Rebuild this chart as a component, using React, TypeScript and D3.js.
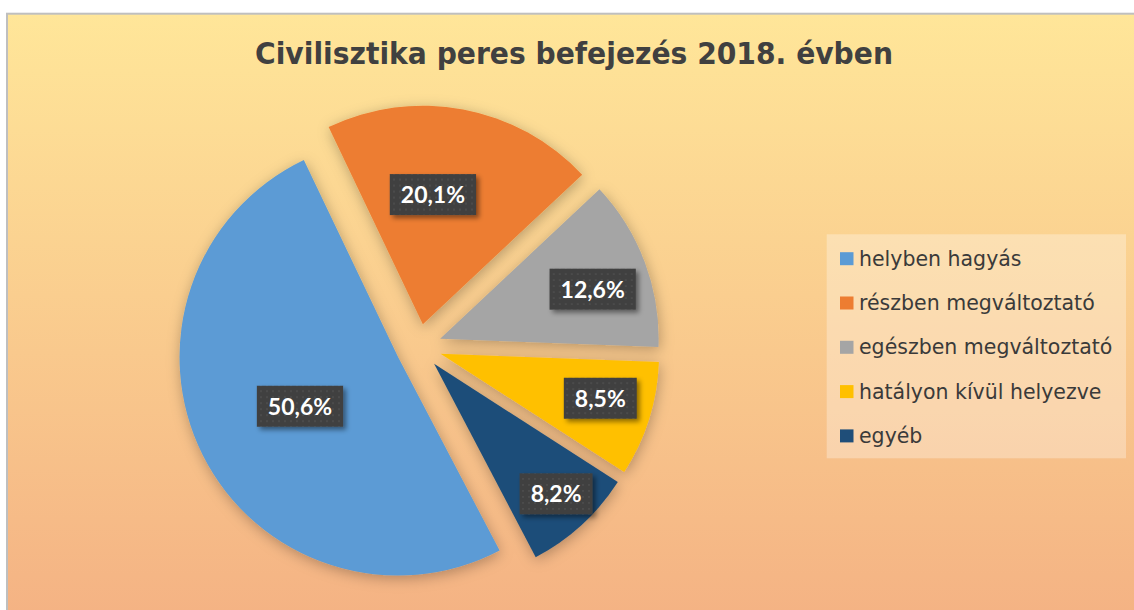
import React, { useEffect, useRef } from 'react';
import * as d3 from 'd3';

const W = 1134;
const H = 610;

const categories = [
  'helyben hagyás',
  'részben megváltoztató',
  'egészben megváltoztató',
  'hatályon kívül helyezve',
  'egyéb',
];
const values = [50.6, 20.1, 12.6, 8.5, 8.2];
const colors = ['#5B9BD5', '#ED7D31', '#A5A5A5', '#FFC000', '#1F4E79'];
const title = 'Civilisztika peres befejezés 2018. évben';

// layout (label placement inside exploded slices)
const labelRadiusFrac = [0.502, 0.595, 0.734, 0.759, 0.816];
const labelAngleShiftDeg = [0, -6.2, 2.5, -1.9, -0.7];

const fmt = (v: number) => d3.format('.1f')(v).replace('.', ',') + '%';

export default function App() {
  const ref = useRef<SVGSVGElement>(null);

  useEffect(() => {
    const svg = d3.select(ref.current);
    svg.selectAll('*').remove();

    const defs = svg.append('defs');
    const grad = defs
      .append('linearGradient')
      .attr('id', 'bg')
      .attr('x1', 0)
      .attr('y1', 0)
      .attr('x2', 0)
      .attr('y2', 1);
    grad.append('stop').attr('offset', '0%').attr('stop-color', '#FFE699');
    grad.append('stop').attr('offset', '100%').attr('stop-color', '#F4B183');

    const ps = defs
      .append('filter')
      .attr('id', 'pieShadow')
      .attr('x', '-20%')
      .attr('y', '-20%')
      .attr('width', '140%')
      .attr('height', '140%');
    ps.append('feDropShadow')
      .attr('dx', 1)
      .attr('dy', 3)
      .attr('stdDeviation', 7)
      .attr('flood-color', '#000')
      .attr('flood-opacity', 0.28);

    const ls = defs
      .append('filter')
      .attr('id', 'labelShadow')
      .attr('x', '-20%')
      .attr('y', '-20%')
      .attr('width', '150%')
      .attr('height', '160%');
    ls.append('feDropShadow')
      .attr('dx', 3)
      .attr('dy', 3)
      .attr('stdDeviation', 2.5)
      .attr('flood-color', '#000')
      .attr('flood-opacity', 0.45);

    const pat = defs
      .append('pattern')
      .attr('id', 'dots')
      .attr('patternUnits', 'userSpaceOnUse')
      .attr('width', 6)
      .attr('height', 6);
    pat.append('rect').attr('width', 6).attr('height', 6).attr('fill', '#3F3F3F');
    pat
      .append('rect')
      .attr('x', 2)
      .attr('y', 2)
      .attr('width', 2)
      .attr('height', 2)
      .attr('fill', '#4C4C4C');

    // chart area
    svg
      .append('rect')
      .attr('x', 7)
      .attr('y', 13.7)
      .attr('width', W + 10)
      .attr('height', H + 10)
      .attr('fill', 'url(#bg)')
      .attr('stroke', '#BFBFBF')
      .attr('stroke-width', 2);

    // title
    svg
      .append('text')
      .attr('x', 574)
      .attr('y', 64)
      .attr('text-anchor', 'middle')
      .attr('font-family', '"DejaVu Sans", sans-serif')
      .attr('font-weight', 'bold')
      .attr('font-size', 31)
      .attr('fill', '#404040')
      .attr('textLength', 638)
      .attr('lengthAdjust', 'spacingAndGlyphs')
      .text(title);

    // pie
    const cx = 418.6;
    const cy = 346.8;
    const r = 218.5;
    const explode = 23;
    const start = (152.3 * Math.PI) / 180;
    const pie = d3
      .pie<number>()
      .sort(null)
      .value((d) => d)
      .startAngle(start)
      .endAngle(start + 2 * Math.PI);
    const arcs = pie(values);
    const arc = d3.arc<d3.PieArcDatum<number>>().innerRadius(0).outerRadius(r);

    const pieG = svg
      .append('g')
      .attr('transform', `translate(${cx},${cy})`);
    const sliceG = pieG.append('g').attr('filter', 'url(#pieShadow)');

    const offset = (a: d3.PieArcDatum<number>) => {
      const mid = (a.startAngle + a.endAngle) / 2;
      return [Math.sin(mid) * explode, -Math.cos(mid) * explode];
    };

    sliceG
      .selectAll('path')
      .data(arcs)
      .join('path')
      .attr('d', arc)
      .attr('fill', (_, i) => colors[i])
      .attr('transform', (a) => {
        const [ox, oy] = offset(a);
        return `translate(${ox},${oy})`;
      });

    // labels
    const labG = pieG.append('g');
    arcs.forEach((a, i) => {
      const [ox, oy] = offset(a);
      const ang =
        (a.startAngle + a.endAngle) / 2 + (labelAngleShiftDeg[i] * Math.PI) / 180;
      const rr = labelRadiusFrac[i] * r;
      const lx = ox + Math.sin(ang) * rr;
      const ly = oy - Math.cos(ang) * rr;
      const g = labG.append('g').attr('transform', `translate(${lx},${ly})`);
      const rect = g.append('rect').attr('filter', 'url(#labelShadow)').attr('fill', 'url(#dots)');
      const t = g
        .append('text')
        .attr('text-anchor', 'middle')
        .attr('y', 8.5)
        .attr('font-family', 'Lato, "Open Sans", sans-serif')
        .attr('font-weight', 'bold')
        .attr('font-size', 23)
        .attr('fill', '#FFFFFF')
        .text(fmt(values[i]));
      const tw = (t.node() as SVGTextElement).getComputedTextLength();
      const bw = tw + 22;
      const bh = 41;
      rect
        .attr('x', -bw / 2)
        .attr('y', -bh / 2)
        .attr('width', bw)
        .attr('height', bh);
    });

    // legend
    const lg = svg.append('g');
    lg.append('rect')
      .attr('x', 826.7)
      .attr('y', 234.3)
      .attr('width', 299.3)
      .attr('height', 224)
      .attr('fill', '#FFFFFF')
      .attr('fill-opacity', 0.3);
    const legY = d3
      .scalePoint<string>()
      .domain(categories)
      .range([258.7, 435.9]);
    const items = lg
      .selectAll('g.item')
      .data(categories)
      .join('g')
      .attr('class', 'item')
      .attr('transform', (d) => `translate(840,${legY(d)})`);
    items
      .append('rect')
      .attr('x', 0)
      .attr('y', -6.5)
      .attr('width', 13.5)
      .attr('height', 13)
      .attr('fill', (_, i) => colors[i]);
    items
      .append('text')
      .attr('x', 19)
      .attr('y', 7)
      .attr('font-family', '"DejaVu Sans", sans-serif')
      .attr('font-size', 20.5)
      .attr('fill', '#3A3A3A')
      .text((d) => d);
  }, []);

  return (
    <svg
      ref={ref}
      width={W}
      height={H}
      style={{ position: 'absolute', left: 0, top: 0, display: 'block', background: '#FFFFFF' }}
    />
  );
}
